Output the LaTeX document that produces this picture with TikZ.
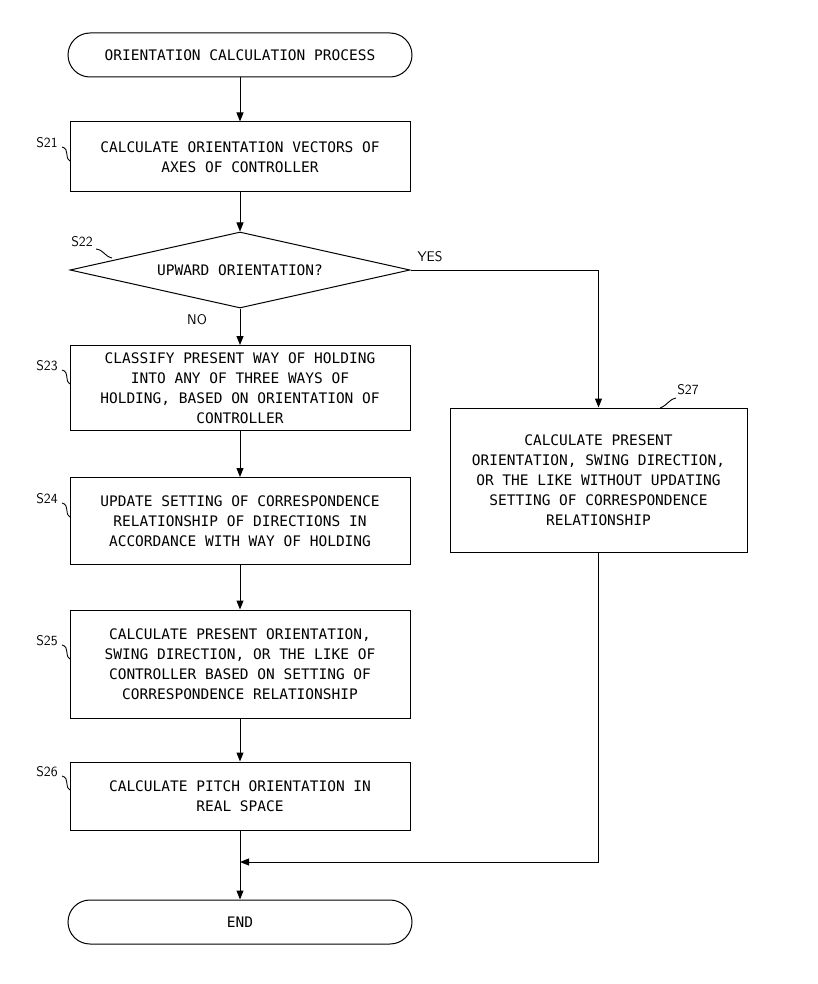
\documentclass[tikz,border=0pt]{standalone}
\usepackage{fontspec}
\setmonofont{DejaVu Sans Mono}
\usetikzlibrary{shapes.geometric,arrows.meta}
\begin{document}
\begin{tikzpicture}[x=1pt,y=-1pt,
  every node/.style={font=\ttfamily\fontsize{14.5}{20}\selectfont},
  box/.style={draw,line width=1pt,minimum width=340pt,align=center,inner sep=0pt},
  term/.style={draw,line width=1pt,rounded corners=22pt,minimum width=344pt,minimum height=44pt},
  arr/.style={line width=1pt,-{Triangle[length=9pt,width=7pt]}},
  tk/.style={line width=0.9pt},
  lab/.style={font=\sffamily\fontsize{14}{15}\selectfont}]
\useasboundingbox (0,0) rectangle (818,984);
\node[term] (st) at (240,55) {ORIENTATION CALCULATION PROCESS};
\node[box,minimum height=70pt] (s21) at (240,157) {CALCULATE ORIENTATION VECTORS OF\\AXES OF CONTROLLER};
\node[draw,line width=1pt,diamond,aspect=4.47,minimum width=340pt,minimum height=76pt,inner sep=0pt] (s22) at (240,270) {};
\node at (240,270) {UPWARD ORIENTATION?};
\node[box,minimum height=85pt] (s23) at (240,388) {CLASSIFY PRESENT WAY OF HOLDING\\INTO ANY OF THREE WAYS OF\\HOLDING, BASED ON ORIENTATION OF\\CONTROLLER};
\node[box,minimum height=87pt] (s24) at (240,521) {UPDATE SETTING OF CORRESPONDENCE\\RELATIONSHIP OF DIRECTIONS IN\\ACCORDANCE WITH WAY OF HOLDING};
\node[box,minimum height=108pt] (s25) at (240,664) {CALCULATE PRESENT ORIENTATION,\\SWING DIRECTION, OR THE LIKE OF\\CONTROLLER BASED ON SETTING OF\\CORRESPONDENCE RELATIONSHIP};
\node[box,minimum height=68pt] (s26) at (240,796) {CALCULATE PITCH ORIENTATION IN\\REAL SPACE};
\node[term] (en) at (240,922) {END};
\node[box,minimum width=297pt,minimum height=144pt] (s27) at (598.5,480) {CALCULATE PRESENT\\ORIENTATION, SWING DIRECTION,\\OR THE LIKE WITHOUT UPDATING\\SETTING OF CORRESPONDENCE\\RELATIONSHIP};
\coordinate (j) at (240,862);
\draw[arr] (st) -- (s21);
\draw[arr] (s21) -- (s22);
\draw[arr] (s22) -- (s23);
\draw[arr] (s23) -- (s24);
\draw[arr] (s24) -- (s25);
\draw[arr] (s25) -- (s26);
\draw[arr] (s26) -- (en);
\draw[arr] (s22.east) -| (s27.north);
\draw[arr] (s27.south) |- (j);
\node[lab] (yes) at (430,257) {YES};
\node[lab] (no) at (197,320) {NO};
\node[lab] (l21) at (47,143) {S21};
\node[lab] (l22) at (82,242) {S22};
\node[lab] (l23) at (47,366) {S23};
\node[lab] (l24) at (47,499) {S24};
\node[lab] (l25) at (47,641) {S25};
\node[lab] (l26) at (47,772) {S26};
\node[lab] (l27) at (688,390) {S27};
\foreach \n/\y in {l21/143,l23/366,l24/499,l25/641,l26/772}
  \draw[tk] (62,\y+4) .. controls (70,\y+6) and (64,\y+14) .. (70,\y+18);
\draw[tk] (96,249) .. controls (104,250) and (104,256) .. (112,258);
\draw[tk] (676,398) .. controls (668,400) and (668,405) .. (660,408);
\end{tikzpicture}
\end{document}
